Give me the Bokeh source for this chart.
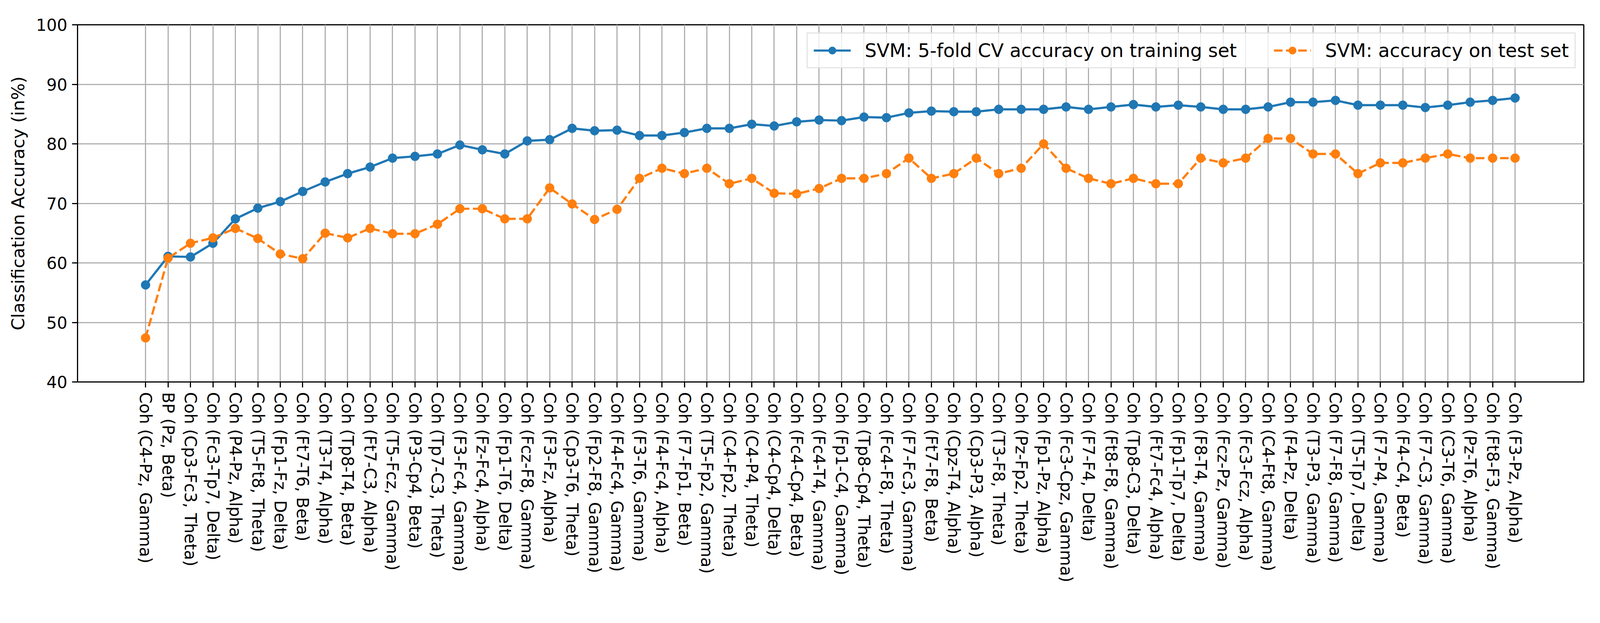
import math
from bokeh.plotting import figure
from bokeh.models import Range1d, FixedTicker
from bokeh.embed import file_html
from bokeh.resources import INLINE

features = [
    "Coh (C4-Pz, Gamma)", "BP (Pz, Beta)", "Coh (Cp3-Fc3, Theta)", "Coh (Fc3-Tp7, Delta)",
    "Coh (P4-Pz, Alpha)", "Coh (T5-Ft8, Theta)", "Coh (Fp1-Fz, Delta)", "Coh (Ft7-T6, Beta)",
    "Coh (T3-T4, Alpha)", "Coh (Tp8-T4, Beta)", "Coh (Ft7-C3, Alpha)", "Coh (T5-Fcz, Gamma)",
    "Coh (P3-Cp4, Beta)", "Coh (Tp7-C3, Theta)", "Coh (F3-Fc4, Gamma)", "Coh (Fz-Fc4, Alpha)",
    "Coh (Fp1-T6, Delta)", "Coh (Fcz-F8, Gamma)", "Coh (F3-Fz, Alpha)", "Coh (Cp3-T6, Theta)",
    "Coh (Fp2-F8, Gamma)", "Coh (F4-Fc4, Gamma)", "Coh (F3-T6, Gamma)", "Coh (F4-Fc4, Alpha)",
    "Coh (F7-Fp1, Beta)", "Coh (T5-Fp2, Gamma)", "Coh (C4-Fp2, Theta)", "Coh (C4-P4, Theta)",
    "Coh (C4-Cp4, Delta)", "Coh (Fc4-Cp4, Beta)", "Coh (Fc4-T4, Gamma)", "Coh (Fp1-C4, Gamma)",
    "Coh (Tp8-Cp4, Theta)", "Coh (Fc4-F8, Theta)", "Coh (F7-Fc3, Gamma)", "Coh (Ft7-F8, Beta)",
    "Coh (Cpz-T4, Alpha)", "Coh (Cp3-P3, Alpha)", "Coh (T3-F8, Theta)", "Coh (Pz-Fp2, Theta)",
    "Coh (Fp1-Pz, Alpha)", "Coh (Fc3-Cpz, Gamma)", "Coh (F7-F4, Delta)", "Coh (Ft8-F8, Gamma)",
    "Coh (Tp8-C3, Delta)", "Coh (Ft7-Fc4, Alpha)", "Coh (Fp1-Tp7, Delta)", "Coh (F8-T4, Gamma)",
    "Coh (Fcz-Pz, Gamma)", "Coh (Fc3-Fcz, Alpha)", "Coh (C4-Ft8, Gamma)", "Coh (F4-Pz, Delta)",
    "Coh (T3-P3, Gamma)", "Coh (F7-F8, Gamma)", "Coh (T5-Tp7, Delta)", "Coh (F7-P4, Gamma)",
    "Coh (F4-C4, Beta)", "Coh (F7-C3, Gamma)", "Coh (C3-T6, Gamma)", "Coh (Pz-T6, Alpha)",
    "Coh (Ft8-F3, Gamma)", "Coh (F3-Pz, Alpha)",
]

cv_train = [
    56.3, 61.1, 61.0, 63.3, 67.4, 69.2, 70.3, 72.0, 73.6, 75.0, 76.1, 77.6, 77.9,
    78.3, 79.8, 79.0, 78.3, 80.5, 80.7, 82.6, 82.2, 82.3, 81.4, 81.4, 81.9, 82.6,
    82.6, 83.3, 83.0, 83.7, 84.0, 83.9, 84.5, 84.4, 85.2, 85.5, 85.4, 85.4, 85.8,
    85.8, 85.8, 86.2, 85.8, 86.2, 86.6, 86.2, 86.5, 86.2, 85.8, 85.8, 86.2, 87.0,
    87.0, 87.3, 86.5, 86.5, 86.5, 86.1, 86.5, 87.0, 87.3, 87.7,
]

test_acc = [
    47.4, 60.8, 63.3, 64.2, 65.8, 64.1, 61.5, 60.7, 65.0, 64.2, 65.8, 64.9, 64.9,
    66.5, 69.1, 69.1, 67.4, 67.4, 72.6, 69.9, 67.3, 69.0, 74.2, 75.9, 75.0, 75.9,
    73.3, 74.2, 71.7, 71.6, 72.5, 74.2, 74.2, 75.0, 77.6, 74.2, 75.0, 77.6, 75.0,
    75.9, 80.0, 75.9, 74.2, 73.3, 74.2, 73.3, 73.3, 77.6, 76.8, 77.6, 80.9, 80.9,
    78.3, 78.3, 75.0, 76.8, 76.8, 77.6, 78.3, 77.6, 77.6, 77.6,
]

y_ticks = [40, 50, 60, 70, 80, 90, 100]

train_label = "SVM: 5-fold CV accuracy on training set"
test_label = "SVM: accuracy on test set"

x = list(range(len(features)))

p = figure(
    width=4090, height=1494, output_backend="svg", toolbar_location=None,
    x_range=Range1d(-3.03, 64.06), y_range=Range1d(40, 100),
    min_border_left=198, min_border_right=36, min_border_top=63, min_border_bottom=516,
    background_fill_color="white", border_fill_color="white",
)

blue = "#1f77b4"
orange = "#ff7f0e"

p.line(x, cv_train, line_color=blue, line_width=5.7, legend_label=train_label)
p.scatter(x, cv_train, size=23, fill_color=blue, line_color=blue, legend_label=train_label)
p.line(x, test_acc, line_color=orange, line_width=5.7, line_dash="22 9", legend_label=test_label)
p.scatter(x, test_acc, size=23, fill_color=orange, line_color=orange, legend_label=test_label)

# axes
p.xaxis.ticker = FixedTicker(ticks=x)
p.xaxis.major_label_overrides = {i: lab for i, lab in enumerate(features)}
p.xaxis.major_label_orientation = -math.pi / 2
p.yaxis.ticker = FixedTicker(ticks=y_ticks)
p.yaxis.axis_label = "Classification Accuracy (in%)"

for ax in (p.xaxis, p.yaxis):
    ax.major_label_text_font = "DejaVu Sans"
    ax.major_label_text_font_size = "42px"
    ax.major_label_text_color = "black"
    ax.axis_line_color = "black"
    ax.axis_line_width = 3
    ax.major_tick_line_color = "black"
    ax.major_tick_line_width = 3
    ax.major_tick_out = 14
    ax.major_tick_in = 0
    ax.minor_tick_line_color = None
    ax.major_label_standoff = 12

p.yaxis.axis_label_text_font = "DejaVu Sans"
p.yaxis.axis_label_text_font_size = "45px"
p.yaxis.axis_label_text_font_style = "normal"
p.yaxis.axis_label_text_color = "black"
p.yaxis.axis_label_standoff = 16

p.xgrid.grid_line_color = "#b0b0b0"
p.ygrid.grid_line_color = "#b0b0b0"
p.xgrid.grid_line_width = 3
p.ygrid.grid_line_width = 3

p.outline_line_color = "black"
p.outline_line_width = 3

# legend
lg = p.legend[0]
lg.orientation = "horizontal"
lg.location = "top_right"
lg.margin = 20
lg.padding = 15
lg.spacing = 95
lg.glyph_width = 95
lg.glyph_height = 48
lg.label_standoff = 36
lg.label_text_font = "DejaVu Sans"
lg.label_text_font_size = "48px"
lg.label_text_color = "black"
lg.border_line_color = "#cccccc"
lg.border_line_width = 3
lg.background_fill_color = "white"
lg.background_fill_alpha = 0.8

open("out.html", "w").write(file_html(p, INLINE))
